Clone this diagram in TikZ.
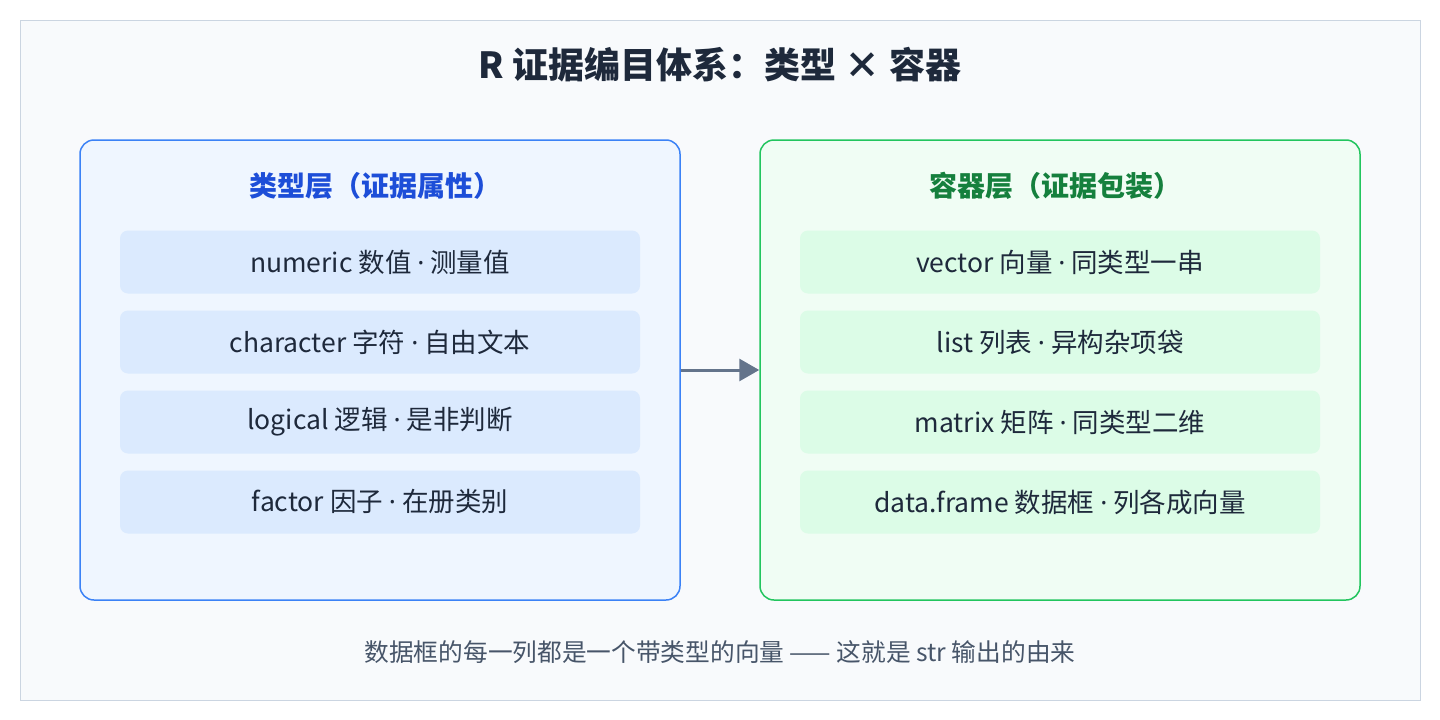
\documentclass[tikz,border=0pt]{standalone}
\usepackage{fontspec}
\setmainfont{Noto Sans CJK SC}
\newfontfamily\latf{Noto Sans}
\newcommand{\md}{{\latf ·}}
\usetikzlibrary{arrows.meta}
\definecolor{bg}{HTML}{F8FAFC}\definecolor{frame}{HTML}{CBD5E1}
\definecolor{lb}{HTML}{EFF6FF}\definecolor{lbd}{HTML}{3B82F6}\definecolor{lh}{HTML}{1D4ED8}\definecolor{li}{HTML}{DBEAFE}
\definecolor{rb}{HTML}{F0FDF4}\definecolor{rbd}{HTML}{22C55E}\definecolor{rh}{HTML}{15803D}\definecolor{ri}{HTML}{DCFCE7}
\definecolor{tt}{HTML}{1E293B}\definecolor{ar}{HTML}{64748B}\definecolor{ft}{HTML}{475569}
\begin{document}
\begin{tikzpicture}[x=1pt,y=-1pt,
 item/.style={rounded corners=8pt,minimum width=520pt,minimum height=63pt,inner sep=0pt,font=\fontsize{26.5}{30}\selectfont,text=tt},
 panel/.style={rounded corners=14pt,line width=1.5pt,minimum width=600pt,minimum height=460pt,inner sep=0pt},
 head/.style={font=\fontsize{28}{32}\selectfont\bfseries}]
\useasboundingbox (0,0) rectangle (1440,720);
\draw[fill=bg,draw=frame,line width=1pt] (20,20) rectangle (1420,700);
\node[font=\fontsize{36}{40}\selectfont\bfseries,text=tt] (title) at (720,65) {R 证据编目体系：类型 × 容器};
\node[panel,fill=lb,draw=lbd] (L) at (380,370) {};
\node[panel,fill=rb,draw=rbd] (R) at (1060,370) {};
\node[head,text=lh] (lh) at (375,186) {类型层（证据属性）};
\node[head,text=rh] (rh) at (1055,186) {容器层（证据包装）};
\node[item,fill=li] (l1) at (380,262) {numeric 数值 \md{} 测量值};
\node[item,fill=li] (l2) at (380,342) {character 字符 \md{} 自由文本};
\node[item,fill=li] (l3) at (380,422) {logical 逻辑 \md{} 是非判断};
\node[item,fill=li] (l4) at (380,502) {factor 因子 \md{} 在册类别};
\node[item,fill=ri] (r1) at (1060,262) {vector 向量 \md{} 同类型一串};
\node[item,fill=ri] (r2) at (1060,342) {list 列表 \md{} 异构杂项袋};
\node[item,fill=ri] (r3) at (1060,422) {matrix 矩阵 \md{} 同类型二维};
\node[item,fill=ri] (r4) at (1060,502) {data.frame 数据框 \md{} 列各成向量};
\draw[ar,line width=3pt,-{Triangle[length=20pt,width=22pt]}] (L.east) -- (R.west);
\node[font=\fontsize{24.7}{28}\selectfont,text=ft] (foot) at (720,652) {数据框的每一列都是一个带类型的向量 —— 这就是 str 输出的由来};
\end{tikzpicture}
\end{document}
